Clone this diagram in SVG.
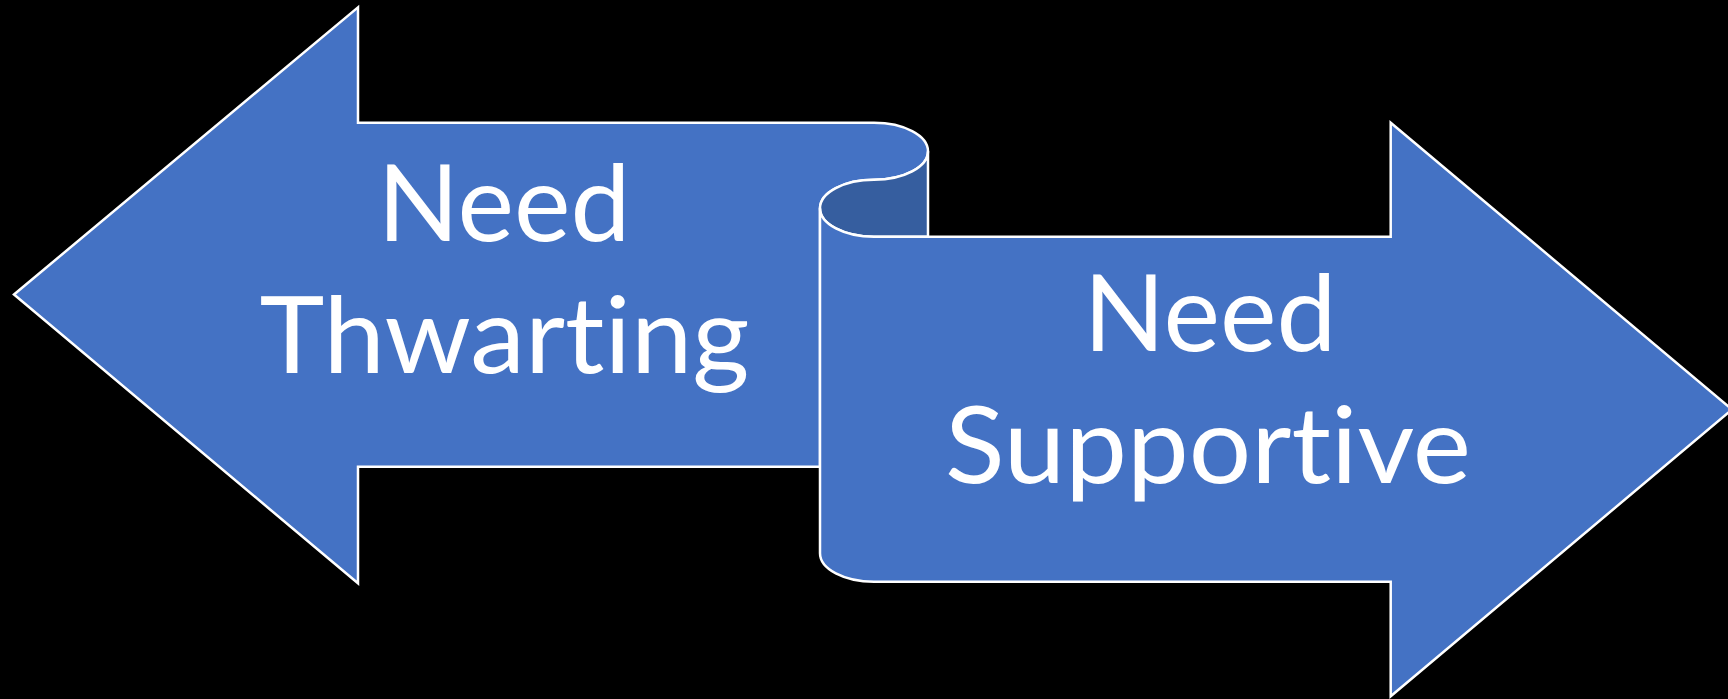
<svg xmlns="http://www.w3.org/2000/svg" width="1728" height="699" viewBox="0 0 1728 699">
<style>
.shape{fill:#4472C4;stroke:#FFFFFF;stroke-width:2.5;stroke-linejoin:miter}
.back{fill:#365E9F;stroke:#FFFFFF;stroke-width:2.5}
.lbl{fill:#FFFFFF;font-family:Lato,"Open Sans","Liberation Sans",sans-serif;font-size:107px;text-anchor:middle;font-variant-ligatures:none;font-feature-settings:"liga" 0,"clig" 0}
</style>
<rect x="0" y="0" width="1728" height="699" fill="#000000"/>
<g id="left-arrow">
<path class="shape" d="M 14,294.5 L 358,7.3 L 358,122.7 L 874,122.7 A 54 28.5 0 0 1 928,151.2 A 54 28.5 0 0 1 874,179.7 A 54 28.5 0 0 0 820,208.2 L 820,466.7 L 358,466.7 L 358,583.3 Z"/>
<text class="lbl" x="504" y="240.5" textLength="253" lengthAdjust="spacingAndGlyphs">Need</text>
<text class="lbl" x="504.5" y="372.7" textLength="490" lengthAdjust="spacingAndGlyphs">Thwarting</text>
</g>
<g id="curl">
<path class="back" d="M 820,208.2 A 54 28.5 0 0 1 874,179.7 A 54 28.5 0 0 0 928,151.2 L 928,236.7 L 874,236.7 A 54 28.5 0 0 1 820,208.2 Z"/>
</g>
<g id="right-arrow">
<path class="shape" d="M 820,208.2 A 54 28.5 0 0 0 874,236.7 L 1390.7,236.7 L 1390.7,122.7 L 1732,409.5 L 1390.7,696.3 L 1390.7,581.7 L 874,581.7 A 54 28.5 0 0 1 820,553.2 Z"/>
<text class="lbl" x="1210" y="350.5" textLength="253" lengthAdjust="spacingAndGlyphs">Need</text>
<text class="lbl" x="1208" y="482.8" textLength="526" lengthAdjust="spacingAndGlyphs">Supportive</text>
</g>
<g id="connectors"/>
</svg>
